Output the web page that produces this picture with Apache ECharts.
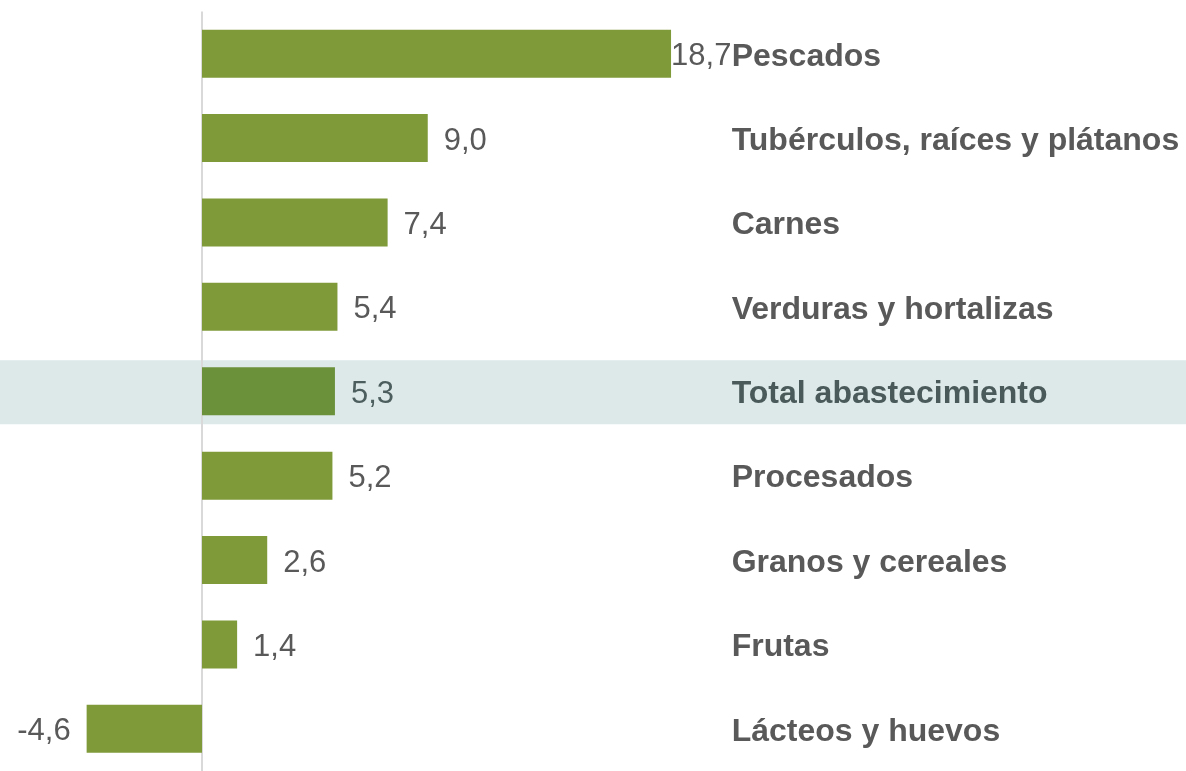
<!DOCTYPE html>
<html>
<head>
<meta charset="utf-8">
<script src="https://cdn.jsdelivr.net/npm/echarts@6/dist/echarts.min.js"></script>
<style>
html,body{margin:0;padding:0;background:#fff;}
#main{width:1186px;height:771px;}
</style>
</head>
<body>
<div id="main"></div>
<script>
var categories = ['Pescados','Tubérculos, raíces y plátanos','Carnes','Verduras y hortalizas','Total abastecimiento','Procesados','Granos y cereales','Frutas','Lácteos y huevos'];
var values = [18.7, 9.0, 7.4, 5.4, 5.3, 5.2, 2.6, 1.4, -4.6];
var highlight = 'Total abastecimiento';

var chart = echarts.init(document.getElementById('main'));
var FONT = '"Liberation Sans", Arial, sans-serif';
var maxV = Math.max.apply(null, values);

function fmt(v){ return v.toFixed(1).replace('.', ','); }

var data = values.map(function(v, i){
  var isTot = categories[i] === highlight;
  return {
    value: v,
    itemStyle: { color: isTot ? '#6b913b' : '#7f9a38' },
    label: {
      position: v < 0 ? 'left' : 'right',
      distance: v === maxV ? 0 : 16,
      color: isTot ? '#4d5e5e' : '#595959'
    }
  };
});

var richBase = { fontFamily: FONT, fontSize: 32, fontWeight: 'bold', padding: [6, 0, 0, 0] };

chart.setOption({
  animation: false,
  grid: { left: 1.35, width: 702.3, top: 11.5, height: 765, containLabel: false },
  xAxis: { type: 'value', min: -8, max: 20, show: false },
  yAxis: {
    type: 'category', data: categories, inverse: true, position: 'right',
    axisLine: { show: false }, axisTick: { show: false },
    axisLabel: {
      margin: 28, align: 'left', fontFamily: FONT, fontSize: 32, fontWeight: 'bold',
      formatter: function(v){ return (v === highlight ? '{h|' : '{n|') + v + '}'; },
      rich: {
        n: Object.assign({ color: '#595959' }, richBase),
        h: Object.assign({ color: '#4a5a5a' }, richBase)
      }
    }
  },
  series: [{
    type: 'bar', data: data, barWidth: 48, z: 3,
    label: {
      show: true, fontFamily: FONT, fontSize: 31, fontWeight: 'normal',
      offset: [0, 3],
      formatter: function(p){ return fmt(p.value); }
    },
    markLine: {
      silent: true, symbol: 'none', z: 2,
      lineStyle: { color: '#d9d9d9', width: 2, type: 'solid' },
      label: { show: false },
      data: [{ xAxis: 0 }]
    }
  }]
});

var yc = chart.convertToPixel({ yAxisIndex: 0 }, highlight);
chart.setOption({
  graphic: [{
    type: 'rect', z: 0, silent: true,
    shape: { x: 0, y: yc - 31, width: 1186, height: 64 },
    style: { fill: '#dde9e9' }
  }]
});
</script>
</body>
</html>
